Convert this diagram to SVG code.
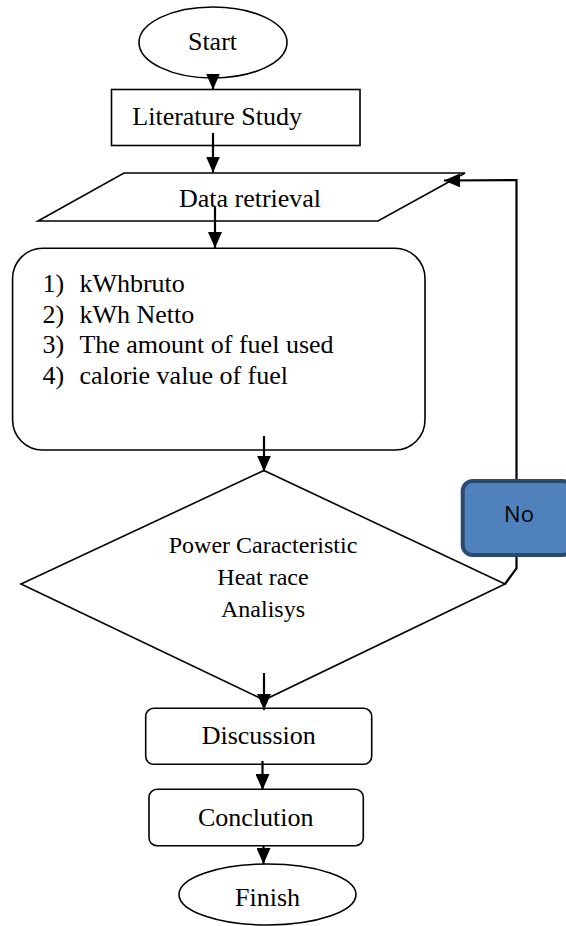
<svg xmlns="http://www.w3.org/2000/svg" width="566" height="926" viewBox="0 0 566 926">
<style>
.shape{fill:#ffffff;stroke:#000000;stroke-width:1.6}
.t{font-family:"Liberation Serif","Times New Roman",serif;font-size:26px;fill:#000000}
.tm{text-anchor:middle}
.d{font-family:"Liberation Serif","Times New Roman",serif;font-size:24px;fill:#000000;text-anchor:middle}
.conn{fill:none;stroke:#000000;stroke-width:2.2}
.no{fill:#4F81BD;stroke:#2C4A70;stroke-width:4}
.not{font-family:"Open Sans","Liberation Sans",sans-serif;font-size:22px;fill:#000000;text-anchor:middle}
</style>
<defs>
<marker id="ah" markerUnits="userSpaceOnUse" markerWidth="16" markerHeight="14" refX="16" refY="7" orient="auto">
<path d="M0,0 L16,7 L0,14 Z" fill="#000000"/>
</marker>
</defs>
<rect width="566" height="926" fill="#ffffff"/>

<g id="start">
<ellipse class="shape" cx="213" cy="42.5" rx="74" ry="35.5"/>
<text class="t tm" x="212.5" y="50">Start</text>
</g>

<g id="literature">
<rect class="shape" x="111.5" y="89.5" width="248.5" height="56"/>
<text class="t" x="132.3" y="125">Literature Study</text>
</g>

<g id="data">
<polygon class="shape" points="124,173 465,173 378,221 38,221"/>
<text class="t tm" x="250" y="207.3">Data retrieval</text>
</g>

<g id="list">
<rect class="shape" x="12.6" y="248.3" width="412.4" height="201.7" rx="30" ry="30"/>
<text class="t" x="42.6" y="291.7">1)</text><text class="t" x="79.4" y="291.7">kWhbruto</text>
<text class="t" x="42.6" y="322.7">2)</text><text class="t" x="79.4" y="322.7">kWh Netto</text>
<text class="t" x="42.6" y="353.3">3)</text><text class="t" x="79.4" y="353.3">The amount of fuel used</text>
<text class="t" x="42.6" y="384">4)</text><text class="t" x="79.4" y="384">calorie value of fuel</text>
</g>

<g id="decision">
<polygon class="shape" points="264,470.5 505,584 264,700 21,584"/>
<text class="d" x="263" y="553.3">Power Caracteristic</text>
<text class="d" x="263" y="585">Heat race</text>
<text class="d" x="263" y="616.7">Analisys</text>
</g>

<g id="discussion">
<rect class="shape" x="145.7" y="708.3" width="226" height="56" rx="8" ry="8"/>
<text class="t tm" x="258.7" y="744.3">Discussion</text>
</g>

<g id="conclution">
<rect class="shape" x="149" y="789.3" width="214.3" height="56.4" rx="8" ry="8"/>
<text class="t tm" x="255.7" y="826">Conclution</text>
</g>

<g id="finish">
<ellipse class="shape" cx="267.5" cy="894.5" rx="88.5" ry="30.5"/>
<text class="t tm" x="267.5" y="906">Finish</text>
</g>

<g id="connectors">
<line class="conn" x1="213" y1="74" x2="213" y2="89.5" marker-end="url(#ah)"/>
<line class="conn" x1="213" y1="133" x2="213" y2="172.5" marker-end="url(#ah)"/>
<line class="conn" x1="215" y1="207" x2="215" y2="248" marker-end="url(#ah)"/>
<line class="conn" x1="264" y1="436" x2="264" y2="471.5" marker-end="url(#ah)"/>
<line class="conn" x1="264" y1="673" x2="264" y2="710" marker-end="url(#ah)"/>
<line class="conn" x1="262.5" y1="761" x2="262.5" y2="790" marker-end="url(#ah)"/>
<line class="conn" x1="263.5" y1="845" x2="263.5" y2="864" marker-end="url(#ah)"/>
<polyline class="conn" points="505,584 516.5,568.3 516.5,180 444,180.5" marker-end="url(#ah)"/>
</g>

<g id="no">
<rect class="no" x="462.7" y="481" width="110" height="74" rx="10" ry="10"/>
<text class="not" x="519" y="522.3">No</text>
</g>
</svg>
